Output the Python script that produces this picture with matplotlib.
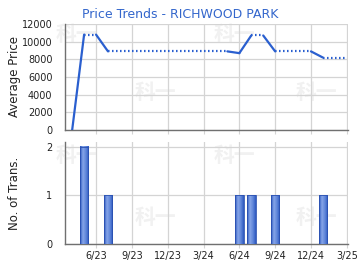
import matplotlib
matplotlib.use("Agg")
import matplotlib.pyplot as plt
import numpy as np

# months counted from Jan 2023 (0 = 1/23)
price_months = [3, 4, 5, 6, 16, 17, 18, 19, 20, 23, 24, 26]
prices = [0, 10800, 10800, 8900, 8900, 8700, 10700, 10700, 8900, 8900, 8200, 8200]
# style of each segment between consecutive points
seg_styles = ["solid", "dotted", "solid", "dotted", "solid", "solid",
              "dotted", "solid", "dotted", "solid", "dotted"]

trans_months = [4, 6, 17, 18, 20, 24]
trans_counts = [2, 1, 1, 1, 1, 1]

tick_months = [5, 8, 11, 14, 17, 20, 23, 26]
tick_labels = ["6/23", "9/23", "12/23", "3/24", "6/24", "9/24", "12/24", "3/25"]

price_ticks = [0, 2000, 4000, 6000, 8000, 10000, 12000]
trans_ticks = [0, 1, 2]

blue = "#2a5fcf"
grid_c = "#d4d4d4"
spine_c = "#707070"

fig = plt.figure(figsize=(3.6, 2.7), dpi=100)
ax1 = fig.add_axes([65 / 360, 1 - 130 / 270, 283 / 360, 106 / 270])
ax2 = fig.add_axes([65 / 360, 1 - 244 / 270, 283 / 360, 102 / 270])

xlim = (2.4, 26.1)

marks = {
    ax1: ((0.04, 0.9), (0.32, 0.35), (0.60, 0.9), (0.887, 0.35)),
    ax2: ((0.04, 0.87), (0.32, 0.26), (0.60, 0.87), (0.887, 0.26)),
}

for ax in (ax1, ax2):
    ax.set_xlim(*xlim)
    ax.set_xticks(tick_months)
    ax.grid(True, color=grid_c, linewidth=0.9)
    ax.set_axisbelow(True)
    for s in ("top", "right"):
        ax.spines[s].set_visible(False)
    for s in ("left", "bottom"):
        ax.spines[s].set_color(spine_c)
        ax.spines[s].set_linewidth(1.0)
    ax.tick_params(axis="both", labelsize=7, colors="#222222", length=0, pad=2)
    ax.tick_params(axis="y", pad=9)
    ax.tick_params(axis="x", length=3, color=grid_c)
    # watermark
    for (fx, fy) in marks[ax]:
        ax.text(fx, fy, "科一", transform=ax.transAxes, fontsize=15,
                family=["Noto Sans CJK SC", "DejaVu Sans"], color="#f1f1f1",
                fontweight="bold", ha="center", va="center", zorder=0)

# price chart
ax1.set_ylim(0, 12000)
ax1.set_yticks(price_ticks)
ax1.set_xticklabels([])
for i, st in enumerate(seg_styles):
    xs = price_months[i:i + 2]
    ys = prices[i:i + 2]
    if st == "solid":
        ax1.plot(xs, ys, color=blue, linewidth=1.6, solid_capstyle="round", zorder=3)
    else:
        ax1.plot(xs, ys, color=blue, linewidth=1.6, linestyle=(0, (0.7, 1.1)),
                 dash_capstyle="butt", zorder=3)
ax1.set_ylabel("Average Price", fontsize=8.5, color="#222222")
fig.text(0.5, 1 - 14 / 270, "Price Trends - RICHWOOD PARK", fontsize=9,
         color="#3366cc", ha="center", va="center")

# transactions chart
ax2.set_ylim(0, 2.1)
ax2.set_yticks(trans_ticks)
ax2.set_xticklabels(tick_labels)
bw = 0.72
cmap = matplotlib.colors.LinearSegmentedColormap.from_list(
    "bar", ["#2e59c0", "#86a5e8", "#6187da", "#2e59c0"])
for m, c in zip(trans_months, trans_counts):
    # horizontal gradient inside each bar
    grad = np.linspace(0, 1, 32).reshape(1, -1)
    ax2.imshow(grad, extent=(m - bw / 2, m + bw / 2, 0, c), aspect="auto",
               cmap=cmap, zorder=3)
    ax2.add_patch(plt.Rectangle((m - bw / 2, 0), bw, c, fill=False,
                                edgecolor="#2a50b0", linewidth=0.6, zorder=4))
ax2.set_xlim(*xlim)
ax2.set_ylim(0, 2.1)
ax2.set_ylabel("No. of Trans.", fontsize=8.5, color="#222222")
ax1.yaxis.set_label_coords(-0.155, 0.5)
ax2.yaxis.set_label_coords(-0.155, 0.5)

fig.savefig("out.png", dpi=100)
